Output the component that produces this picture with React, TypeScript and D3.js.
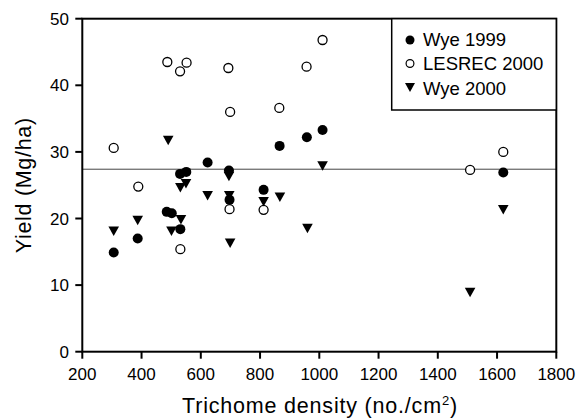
import React from "react";
import * as d3 from "d3";

const wye1999X = [306, 387, 485, 502, 531, 530, 551, 623, 695, 697, 812, 866, 958, 1011, 1621];
const wye1999Y = [14.9, 17.0, 21.0, 20.8, 18.4, 26.7, 27.0, 28.4, 27.2, 22.8, 24.3, 30.9, 32.2, 33.3, 26.9];

const lesrecX = [306, 389, 487, 530, 552, 693, 699, 865, 957, 1011, 531, 697, 812, 1509, 1621];
const lesrecY = [30.6, 24.8, 43.5, 42.1, 43.4, 42.6, 36.0, 36.6, 42.8, 46.8, 15.4, 21.4, 21.3, 27.3, 30.0];

const wye2000X = [306, 387, 490, 501, 531, 533, 550, 623, 695, 696, 699, 812, 867, 960, 1011, 1509, 1621];
const wye2000Y = [18.1, 19.7, 31.7, 18.1, 24.6, 19.8, 25.2, 23.4, 26.3, 23.4, 16.3, 22.5, 23.2, 18.5, 27.9, 8.9, 21.3];

const refLine = 27.4;

const xTicks = [200, 400, 600, 800, 1000, 1200, 1400, 1600, 1800];
const yTicks = [0, 10, 20, 30, 40, 50];

const legendLabels = ["Wye 1999", "LESREC 2000", "Wye 2000"];

const FONT = "'Liberation Sans', Arial, Helvetica, sans-serif";

function tri(cx: number, cy: number, hw = 5.3, h = 9.5) {
  return `M${cx - hw},${cy - h / 2}L${cx + hw},${cy - h / 2}L${cx},${cy + h / 2}Z`;
}

export default function App() {
  const x = d3.scaleLinear().domain([200, 1800]).range([82.3, 556.3]);
  const y = d3.scaleLinear().domain([0, 50]).range([351.7, 18.7]);
  const [x0, x1] = x.range();
  const [y0, y1] = y.range();

  return (
    <svg width={579} height={419} style={{ position: "absolute", left: 0, top: 0, background: "#fff" }} fontFamily={FONT}>
      <rect x={0} y={0} width={579} height={419} fill="#fff" />
      {/* reference line */}
      <line x1={x0} x2={x1} y1={y(refLine)} y2={y(refLine)} stroke="#444" strokeWidth={1} />

      {/* LESREC 2000 open circles */}
      {lesrecX.map((v, i) => (
        <circle key={"l" + i} cx={x(v)} cy={y(lesrecY[i])} r={4.5} fill="#fff" stroke="#000" strokeWidth={1.3} />
      ))}
      {/* Wye 1999 filled circles */}
      {wye1999X.map((v, i) => (
        <circle key={"w" + i} cx={x(v)} cy={y(wye1999Y[i])} r={5} fill="#000" />
      ))}
      {/* Wye 2000 triangles */}
      {wye2000X.map((v, i) => (
        <path key={"t" + i} d={tri(x(v), y(wye2000Y[i]))} fill="#000" />
      ))}

      {/* frame */}
      <rect x={x0} y={y1} width={x1 - x0} height={y0 - y1} fill="none" stroke="#000" strokeWidth={2} />

      {/* x ticks */}
      {xTicks.map((t) => (
        <g key={"xt" + t}>
          <line x1={x(t)} x2={x(t)} y1={y0} y2={y0 + 7} stroke="#000" strokeWidth={2} />
          <text x={x(t)} y={380} textAnchor="middle" fontSize={17}>{t}</text>
        </g>
      ))}
      {/* y ticks */}
      {yTicks.map((t) => (
        <g key={"yt" + t}>
          <line x1={x0 - 7} x2={x0} y1={y(t)} y2={y(t)} stroke="#000" strokeWidth={2} />
          <text x={69} y={y(t) + 6} textAnchor="end" fontSize={17}>{t}</text>
        </g>
      ))}

      {/* axis titles */}
      <text x={320} y={413} textAnchor="middle" fontSize={21.5} letterSpacing={0.8}>
        Trichome density (no./cm<tspan fontSize={13} dy={-8}>2</tspan><tspan dy={8}>)</tspan>
      </text>
      <text transform={`translate(31,${(y0 + y1) / 2}) rotate(-90)`} textAnchor="middle" fontSize={21.5} letterSpacing={0.7}>
        Yield (Mg/ha)
      </text>

      {/* legend */}
      <rect x={391.7} y={y1} width={x1 - 391.7} height={110 - y1} fill="#fff" stroke="#000" strokeWidth={1.5} />
      <circle cx={410} cy={40} r={4.5} fill="#000" />
      <circle cx={410} cy={63.5} r={3.9} fill="#fff" stroke="#000" strokeWidth={1.2} />
      <path d={tri(410, 87.5, 5, 9)} fill="#000" />
      {legendLabels.map((l, i) => (
        <text key={l} x={423} y={46 + i * 24.3} fontSize={18.5}>{l}</text>
      ))}
    </svg>
  );
}
